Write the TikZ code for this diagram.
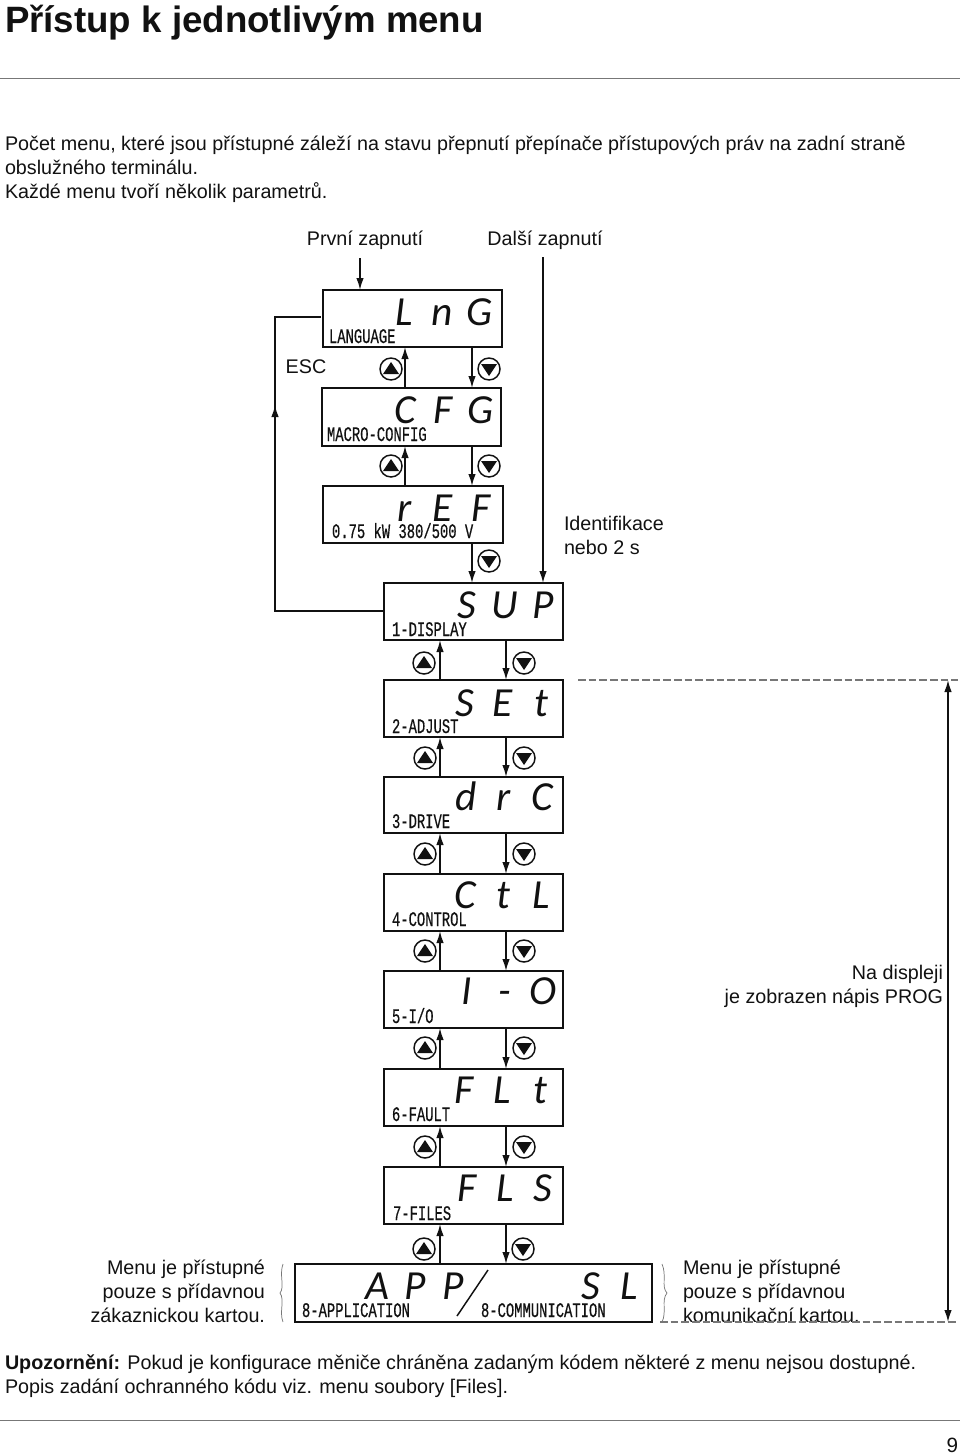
\documentclass[tikz,border=0pt]{standalone}
\usepackage{fontspec}
\setmainfont{Liberation Sans}
\newfontfamily\lcdfont{Carlito}
\newfontfamily\pixfont[FakeStretch=0.67,FakeBold=0.5]{Liberation Mono}
\usetikzlibrary{arrows.meta,calc}
\definecolor{ink}{HTML}{111111}
\definecolor{rulegray}{HTML}{777777}
\newcommand{\pxsize}[2]{\fontsize{#1}{#2}\selectfont}
\newcommand{\lcdletter}[1]{\makebox[28.5pt][c]{#1}}
\newcommand{\lcdthree}[3]{\lcdletter{#1}\lcdletter{#2}\lcdletter{#3}}
\tikzset{
  every node/.style={inner sep=0pt,outer sep=0pt,text=ink},
  panel/.style={draw=ink,line width=1.5pt,fill=white},
  arr/.style={draw=ink,line width=1.1pt,-{Latex[length=9pt,width=5.6pt]}},
  link/.style={draw=ink,line width=1.1pt},
  btn/.style={circle,draw=ink,line width=1.1pt,minimum size=16.5pt,fill=white},
  body/.style={font=\pxsize{14.8}{18}},
  seglabel/.style={anchor=base,font=\lcdfont\itshape\pxsize{31}{31}},
  pix/.style={anchor=base west,font=\pixfont\pxsize{15.5}{15.5}},
  guide/.style={draw=rulegray,line width=0.8pt,dash pattern=on 5.8pt off 2.2pt},
  brace/.style={draw=rulegray,line width=0.55pt},
  hrule/.style={draw=rulegray,line width=0.6pt}
}
\newcommand{\panelbox}[5]{\node[panel,minimum width={(#4-#2)*0.75pt},minimum height={(#5-#3)*0.75pt}] (#1) at ({(#2+#4)/2},{(#3+#5)/2}) {};}
\newcommand{\upbtn}[3]{\node[btn] (#1) at (#2,#3) {}; \fill[ink] ($(#1.center)+(0,-7)$) -- ($(#1.center)+(8,5)$) -- ($(#1.center)+(-8,5)$) -- cycle;}
\newcommand{\downbtn}[3]{\node[btn] (#1) at (#2,#3) {}; \fill[ink] ($(#1.center)+(0,7)$) -- ($(#1.center)+(8,-5)$) -- ($(#1.center)+(-8,-5)$) -- cycle;}
\begin{document}
\begin{tikzpicture}[x=0.75pt,y=-0.75pt]
\useasboundingbox (0,0) rectangle (960,1455);
% header
\node[anchor=base west,font=\bfseries\pxsize{27.5}{30}] (title) at (5,33) {Přístup k jednotlivým menu};
\coordinate (hl) at (0,78); \coordinate (hr) at (960,78);
\draw[hrule] (hl) -- (hr);
\node[anchor=base west,body] (p1) at (5,151) {Počet menu, které jsou přístupné záleží na stavu přepnutí přepínače přístupových práv na zadní straně};
\node[anchor=base west,body] (p2) at (5,175) {obslužného terminálu.};
\node[anchor=base west,body] (p3) at (5,199) {Každé menu tvoří několik parametrů.};
% entry labels
\node[body] (first) at (365,240) {První zapnutí};
\node[body] (next) at (545,240) {Další zapnutí};
\node[body] (esc) at (306,367) {ESC};
\node[anchor=north west,align=left,body] (ident) at (564,516) {Identifikace\\nebo 2 s};
\node[anchor=north east,align=right,body] (prog) at (943,965) {Na displeji\\je zobrazen nápis PROG};
\node[anchor=north east,align=right,body] (mleft) at (265,1260) {Menu je přístupné\\pouze s přídavnou\\zákaznickou kartou.};
\node[anchor=north west,align=left,body] (mright) at (683,1260) {Menu je přístupné\\pouze s přídavnou\\komunikační kartou.};
% panels
\panelbox{lng}{323}{290}{502}{347}
\panelbox{cfg}{322}{388}{501}{446}
\panelbox{ref}{323}{486}{503}{543}
\panelbox{sup}{384}{583}{563}{640}
\panelbox{set}{384}{680}{563}{737}
\panelbox{drc}{384}{777}{563}{833}
\panelbox{ctl}{384}{874}{563}{931}
\panelbox{io}{384}{971}{563}{1028}
\panelbox{flt}{384}{1069}{563}{1126}
\panelbox{fls}{384}{1167}{563}{1224}
\panelbox{app}{295}{1264}{652}{1322}
% display letters
\node[seglabel] (tlng) at (442,325) {\lcdthree{L}{n}{G}};
\node[seglabel] (tcfg) at (443,423) {\lcdthree{C}{F}{G}};
\node[seglabel] (tref) at (443,521) {\lcdthree{r}{E}{F}};
\node[seglabel] (tsup) at (505,618) {\lcdthree{S}{U}{P}};
\node[seglabel] (tset) at (503,716) {\lcdthree{S}{E}{t}};
\node[seglabel] (tdrc) at (504,810) {\lcdthree{d}{r}{C}};
\node[seglabel] (tctl) at (503,908) {\lcdthree{C}{t}{L}};
\node[seglabel] (tio) at (505,1004) {\lcdthree{I}{-}{O}};
\node[seglabel] (tflt) at (502,1103) {\lcdthree{F}{L}{t}};
\node[seglabel] (tfls) at (505,1201) {\lcdthree{F}{L}{S}};
\node[seglabel] (tapp) at (415,1299) {\lcdthree{A}{P}{P}};
\node[seglabel] (tsl) at (610,1299) {\lcdletter{S}\lcdletter{L}};
\coordinate (sla) at (488,1270); \coordinate (slb) at (457,1316);
\draw[ink,line width=1.1pt] (sla) -- (slb);
% small labels
\node[pix] (l1) at (329,343) {LANGUAGE};
\node[pix] (l2) at (327,441) {MACRO-CONFIG};
\node[pix] (l3) at (332,538) {0.75 kW 380/500 V};
\node[pix] (l4) at (392,636) {1-DISPLAY};
\node[pix] (l5) at (392,733) {2-ADJUST};
\node[pix] (l6) at (392,828) {3-DRIVE};
\node[pix] (l7) at (392,926) {4-CONTROL};
\node[pix] (l8) at (392,1023) {5-I/O};
\node[pix] (l9) at (392,1121) {6-FAULT};
\node[pix] (l10) at (393,1220) {7-FILES};
\node[pix] (l11) at (302,1317) {8-APPLICATION};
\node[pix] (l12) at (481,1317) {8-COMMUNICATION};
% connectors, upper group
\coordinate (uhi) at (405,0); \coordinate (dhi) at (472,0);
\coordinate (ulo) at (440,0); \coordinate (dlo) at (506,0);
\foreach \a/\b in {lng/cfg,cfg/ref}{
  \draw[arr] (\b.north -| uhi) -- (\a.south -| uhi);
  \draw[arr] (\a.south -| dhi) -- (\b.north -| dhi);
}
\draw[arr] (ref.south -| dhi) -- (sup.north -| dhi);
\foreach \a/\b in {sup/set,set/drc,drc/ctl,ctl/io,io/flt,flt/fls,fls/app}{
  \draw[arr] (\b.north -| ulo) -- (\a.south -| ulo);
  \draw[arr] (\a.south -| dlo) -- (\b.north -| dlo);
}
% entries
\coordinate (e1) at (360,258); \coordinate (e2) at (543,257);
\draw[arr] (e1) -- (e1 |- lng.north);
\draw[arr] (e2) -- (e2 |- sup.north);
% ESC loop
\coordinate (loopa) at (275,611); \coordinate (loopb) at (275,405); \coordinate (loopc) at (275,317); \coordinate (loopd) at (321,317);
\draw[link] (sup.west |- loopa) -- (loopa) -- (loopc) -- (loopd);
\draw[arr] (loopa) -- (loopb);
% buttons
\upbtn{b1u}{391}{369} \downbtn{b1d}{489}{369}
\upbtn{b2u}{391}{466} \downbtn{b2d}{489}{466}
\downbtn{b3d}{489}{561}
\upbtn{b4u}{424}{663} \downbtn{b4d}{524}{663}
\upbtn{b5u}{425}{758} \downbtn{b5d}{524}{758}
\upbtn{b6u}{425}{854} \downbtn{b6d}{524}{854}
\upbtn{b7u}{425}{951} \downbtn{b7d}{524}{951}
\upbtn{b8u}{425}{1048} \downbtn{b8d}{524}{1048}
\upbtn{b9u}{425}{1147} \downbtn{b9d}{524}{1147}
\upbtn{b10u}{424}{1249} \downbtn{b10d}{523}{1249}
% dashed guides and extent
\coordinate (g1a) at (578,680); \coordinate (g1b) at (958,680);
\coordinate (g2a) at (660,1322); \coordinate (g2b) at (958,1322);
\draw[guide] (g1a) -- (g1b);
\draw[guide] (g2a) -- (g2b);
\coordinate (m1) at (948,680); \coordinate (m2) at (948,1322);
\draw[draw=ink,line width=1.1pt,{Latex[length=9pt,width=5.6pt]}-{Latex[length=9pt,width=5.6pt]}] (m1) -- (m2);
% braces
\draw[brace] (283,1264) .. controls (279,1275) and (285,1287) .. (280,1293) .. controls (285,1300) and (279,1312) .. (283,1322);
\draw[brace] (662,1264) .. controls (667,1275) and (661,1287) .. (667,1293) .. controls (661,1300) and (667,1312) .. (662,1322);
% footer
\node[anchor=base west,body] (f1) at (5,1369) {\textbf{Upozornění:} Pokud je konfigurace měniče chráněna zadaným kódem některé z menu nejsou dostupné.};
\node[anchor=base west,body] (f2) at (5,1393) {Popis zadání ochranného kódu viz. menu soubory [Files].};
\coordinate (fl) at (0,1420); \coordinate (fr) at (960,1420);
\draw[hrule] (fl) -- (fr);
\node[anchor=base east,font=\pxsize{15.5}{18}] (pg) at (958,1452) {9};
\end{tikzpicture}
\end{document}
